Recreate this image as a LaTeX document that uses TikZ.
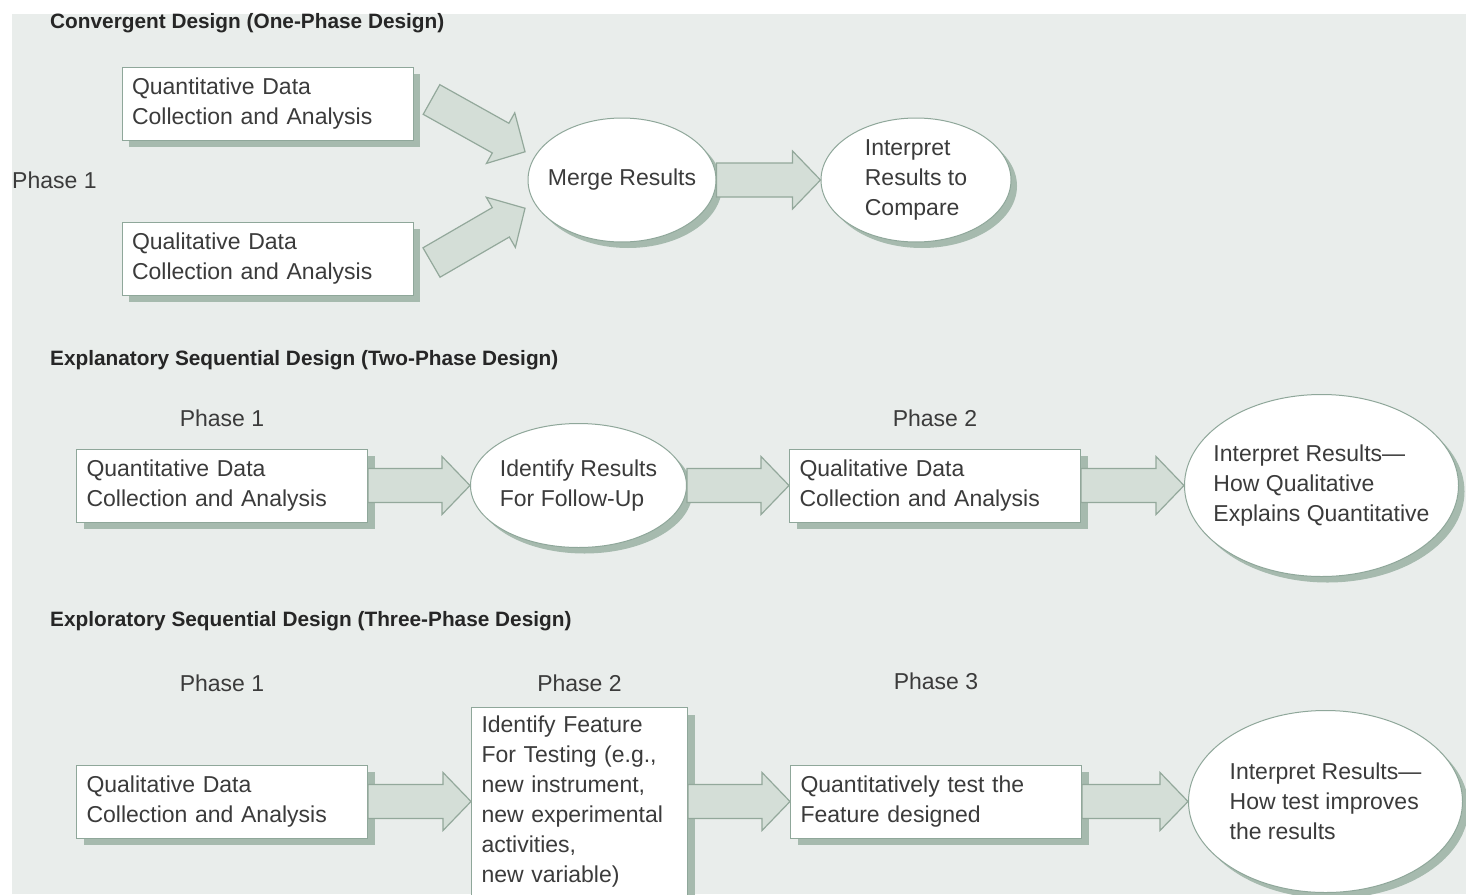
\documentclass[tikz,border=0pt]{standalone}
\usepackage{fontspec}
\setmainfont{Liberation Sans}
\usetikzlibrary{positioning,shapes,shadows,calc}
\definecolor{panel}{HTML}{E9EDEB}
\definecolor{boxline}{HTML}{8FA79A}
\definecolor{shadowgreen}{HTML}{A6BAAE}
\definecolor{arrowfill}{HTML}{D4DED7}
\definecolor{arrowline}{HTML}{93A89B}
\definecolor{textgray}{HTML}{3B3B3B}
\definecolor{titlegray}{HTML}{262626}
\tikzstyle{databox}=[rectangle, draw=boxline, line width=1pt, fill=white, align=left, text width=271pt, inner xsep=10pt, minimum height=73pt, text=textgray, font=\fontsize{23}{30}\selectfont, drop shadow={shadow xshift=7pt, shadow yshift=-7pt, opacity=1, fill=shadowgreen}]
\tikzstyle{result}=[ellipse, draw=boxline, line width=1pt, fill=white, align=left, inner xsep=-20pt, inner ysep=0pt, text=textgray, font=\fontsize{23}{30}\selectfont, drop shadow={shadow xshift=6pt, shadow yshift=-6pt, opacity=1, fill=shadowgreen}]
\tikzstyle{phase}=[inner sep=0pt, text=textgray, font=\fontsize{23}{30}\selectfont]
\tikzstyle{designtitle}=[anchor=west, inner sep=0pt, text=titlegray, font=\bfseries\fontsize{20.8}{24}\selectfont]

\begin{document}
\begin{tikzpicture}[
        x=1pt, y=-1pt,
        node distance = 102pt,
        line/.style={draw=arrowline, fill=arrowfill, line width=1.2pt,
          to path={let \p1=(\tikztostart), \p2=(\tikztotarget),
            \n1={atan2(\y2-\y1,\x2-\x1)}, \n2={veclen(\x2-\x1,\y2-\y1)} in
            {[shift={(\p1)}, rotate=\n1]
              (0pt,-17pt) -- (\n2-28pt,-17pt) -- (\n2-28pt,-29pt) -- (\n2,0pt)
              -- (\n2-28pt,29pt) -- (\n2-28pt,17pt) -- (0pt,17pt) -- cycle}}},
      ]
      \useasboundingbox (0,0) rectangle (1466,894);
      \fill[panel] (12,14) rectangle (1466,894);

      % convergent design
      \node (ConvTitle) [designtitle] at (50,23) {Convergent Design (One-Phase Design)};
      \node (QuanOne) [databox] at (267.5,103.5) {Quantitative Data\\Collection and Analysis};
      \node (QualOne) [databox] at (267.5,258.5) {Qualitative Data\\Collection and Analysis};
      \node (PhaseOne) [phase, anchor=west] at (12,180) {Phase 1};
      \node (Merge) [result, minimum width=188pt, minimum height=124pt] at (622,180) {Merge Results};
      \node (Compare) [result, minimum width=190pt, minimum height=124pt, right=104pt of Merge] {Interpret\\Results to\\Compare};
      \draw [line] ([xshift=18pt, yshift=4pt]QuanOne.east) to ([xshift=-14pt, yshift=-2pt]Merge.160);
      \draw [line] ([xshift=18pt, yshift=-4pt]QualOne.east) to ([xshift=-14pt, yshift=2pt]Merge.200);
      \draw [line] (Merge.east) to (Compare.west);

      % explanatory sequential design
      \node (ExplTitle) [designtitle] at (50,360) {Explanatory Sequential Design (Two-Phase Design)};
      \node (QuanTwo) [databox] at (222,485.5) {Quantitative Data\\Collection and Analysis};
      \node (FollowUp) [result, minimum width=216pt, minimum height=124pt, right=of QuanTwo] {Identify Results\\For Follow-Up};
      \node (QualTwo) [databox, right=of FollowUp] {Qualitative Data\\Collection and Analysis};
      \node (Explains) [result, minimum width=274pt, minimum height=182pt, right=103pt of QualTwo] {Interpret Results---\\How Qualitative\\Explains Quantitative};
      \node (PhaseTwoA) [phase, above=22pt of QuanTwo] {Phase 1};
      \node (PhaseTwoB) [phase, above=22pt of QualTwo] {Phase 2};
      \draw [line] (QuanTwo.east) to (FollowUp.west);
      \draw [line] (FollowUp.east) to (QualTwo.west);
      \draw [line] (QualTwo.east) to (Explains.west);

      % exploratory sequential design
      \node (ExplrTitle) [designtitle] at (50,621) {Exploratory Sequential Design (Three-Phase Design)};
      \node (QualThree) [databox] at (222,801.5) {Qualitative Data\\Collection and Analysis};
      \node (Feature) [databox, text width=196pt, minimum height=188pt, right=103pt of QualThree] {Identify Feature\\For Testing (e.g.,\\new instrument,\\new experimental\\activities,\\new variable)};
      \node (TestFeature) [databox, right=of Feature] {Quantitatively test the\\Feature designed};
      \node (Improves) [result, minimum width=274pt, minimum height=182pt, right=106pt of TestFeature] {Interpret Results---\\How test improves\\the results};
      \node (PhaseThreeA) [phase, above=73pt of QualThree] {Phase 1};
      \node (PhaseThreeB) [phase, above=15pt of Feature] {Phase 2};
      \node (PhaseThreeC) [phase, above=75pt of TestFeature] {Phase 3};
      \draw [line] (QualThree.east) to (Feature.west);
      \draw [line] (Feature.east) to (TestFeature.west);
      \draw [line] (TestFeature.east) to (Improves.west);
    \end{tikzpicture}
\end{document}
